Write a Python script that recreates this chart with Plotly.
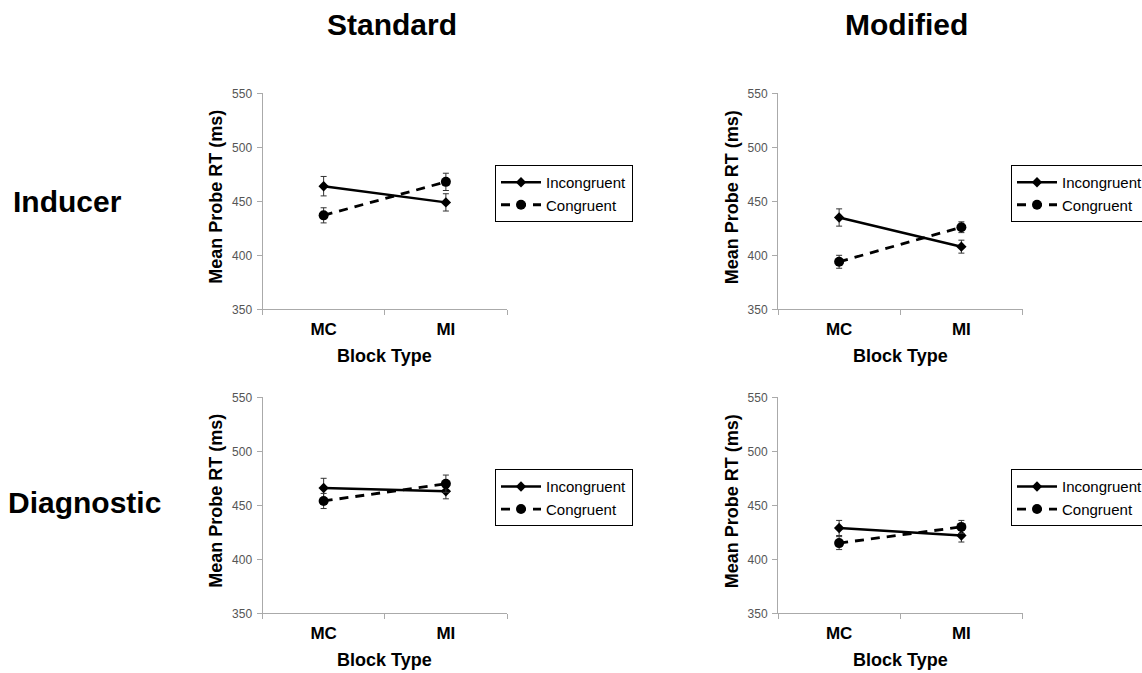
import plotly.graph_objects as go

W, H = 1142, 673
categories = ["MC", "MI"]
series_names = ["Incongruent", "Congruent"]

inducer_standard_incongruent = [464, 449]
inducer_standard_congruent = [437, 468]
inducer_modified_incongruent = [435, 408]
inducer_modified_congruent = [394, 426]
diagnostic_standard_incongruent = [466, 463]
diagnostic_standard_congruent = [454, 470]
diagnostic_modified_incongruent = [429, 422]
diagnostic_modified_congruent = [415, 430]

err_inducer_standard_incongruent = [9, 8]
err_inducer_standard_congruent = [7, 8]
err_inducer_modified_incongruent = [8, 6]
err_inducer_modified_congruent = [6, 5]
err_diagnostic_standard_incongruent = [9, 7]
err_diagnostic_standard_congruent = [7, 8]
err_diagnostic_modified_incongruent = [7, 6]
err_diagnostic_modified_congruent = [6, 6]

y_ticks = [350, 400, 450, 500, 550]
col_titles = ["Standard", "Modified"]
row_titles = ["Inducer", "Diagnostic"]
x_title = "Block Type"
y_title = "Mean Probe RT (ms)"

panels = [
    (inducer_standard_incongruent, err_inducer_standard_incongruent,
     inducer_standard_congruent, err_inducer_standard_congruent),
    (inducer_modified_incongruent, err_inducer_modified_incongruent,
     inducer_modified_congruent, err_inducer_modified_congruent),
    (diagnostic_standard_incongruent, err_diagnostic_standard_incongruent,
     diagnostic_standard_congruent, err_diagnostic_standard_congruent),
    (diagnostic_modified_incongruent, err_diagnostic_modified_incongruent,
     diagnostic_modified_congruent, err_diagnostic_modified_congruent),
]

FONT = "Arial, 'Liberation Sans', sans-serif"
# pixel layout
x_left_px = [262.5, 778.0]
x_w_px = 244.5
y_top_px = [93.3, 397.3]
y_h_px = 216.0
legend_x_px = [495.0, 1011.0]
legend_y_px = [165.0, 469.3]

fig = go.Figure()
layout = dict(
    width=W, height=H,
    margin=dict(l=0, r=0, t=0, b=0, autoexpand=False),
    paper_bgcolor="white", plot_bgcolor="white",
    showlegend=True,
    font=dict(family=FONT, color="black"),
    annotations=[],
)

for i, (inc, einc, con, econ) in enumerate(panels):
    r, c = divmod(i, 2)
    idx = i + 1
    xa = "x" if idx == 1 else f"x{idx}"
    ya = "y" if idx == 1 else f"y{idx}"
    lg = "legend" if idx == 1 else f"legend{idx}"
    fig.add_trace(go.Scatter(
        x=categories, y=inc, name=series_names[0], mode="lines+markers",
        xaxis=xa, yaxis=ya, legend=lg,
        line=dict(color="black", width=2.5),
        marker=dict(symbol="diamond", size=8, color="black"),
        error_y=dict(type="data", array=einc, visible=True, color="#333", thickness=1, width=3),
    ))
    fig.add_trace(go.Scatter(
        x=categories, y=con, name=series_names[1], mode="lines+markers",
        xaxis=xa, yaxis=ya, legend=lg,
        line=dict(color="black", width=2.8, dash="9px,7px"),
        marker=dict(symbol="circle", size=10, color="black"),
        error_y=dict(type="data", array=econ, visible=True, color="#333", thickness=1, width=3),
    ))
    x0 = x_left_px[c] / W
    x1 = (x_left_px[c] + x_w_px) / W
    y1 = 1 - y_top_px[r] / H
    y0 = 1 - (y_top_px[r] + y_h_px) / H
    layout["xaxis" if idx == 1 else f"xaxis{idx}"] = dict(
        domain=[x0, x1], anchor=ya, type="category", range=[-0.5, 1.5],
        showline=True, linecolor="#aaa", linewidth=1,
        ticks="outside", tickson="boundaries", ticklen=5, tickcolor="#aaa",
        showgrid=False, zeroline=False,
        tickfont=dict(size=17, family=FONT, color="black", weight="bold"),
        ticklabelstandoff=4,
    )
    layout["yaxis" if idx == 1 else f"yaxis{idx}"] = dict(
        domain=[y0, y1], anchor=xa, range=[350, 550], tickvals=y_ticks,
        showline=True, linecolor="#aaa", linewidth=1,
        ticks="outside", ticklen=5, tickcolor="#aaa",
        showgrid=False, zeroline=False,
        tickfont=dict(size=12, family=FONT, color="#555"),
        ticklabelstandoff=2,
    )
    layout[lg] = dict(
        x=legend_x_px[c] / W, y=1 - legend_y_px[r] / H, xanchor="left", yanchor="top",
        xref="paper", yref="paper",
        bordercolor="black", borderwidth=1, bgcolor="white",
        font=dict(size=15, family=FONT, color="black"),
        itemwidth=40, tracegroupgap=0,
    )
    # y title
    layout["annotations"].append(dict(
        text=f"<b>{y_title}</b>", xref="paper", yref="paper",
        x=(x_left_px[c] - 46) / W, y=1 - (y_top_px[r] + y_h_px / 2 - 4) / H, textangle=-90,
        showarrow=False, font=dict(size=18, family=FONT, color="black"),
        xanchor="center", yanchor="middle",
    ))
    # x title
    layout["annotations"].append(dict(
        text=f"<b>{x_title}</b>", xref="paper", yref="paper",
        x=(x_left_px[c] + x_w_px / 2) / W, y=1 - (y_top_px[r] + y_h_px + 47) / H,
        showarrow=False, font=dict(size=18, family=FONT, color="black"),
        xanchor="center", yanchor="middle",
    ))

for c, t in enumerate(col_titles):
    layout["annotations"].append(dict(
        text=f"<b>{t}</b>", xref="paper", yref="paper",
        x=[392, 907][c] / W, y=1 - 25 / H, showarrow=False,
        font=dict(size=30, family=FONT, color="black"), xanchor="center", yanchor="middle",
    ))
for r, t in enumerate(row_titles):
    layout["annotations"].append(dict(
        text=f"<b>{t}</b>", xref="paper", yref="paper",
        x=[11, 6][r] / W, y=1 - [201, 502][r] / H, showarrow=False,
        font=dict(size=30, family=FONT, color="black"), xanchor="left", yanchor="middle",
    ))

fig.update_layout(**layout)
fig.write_html("out.html")
